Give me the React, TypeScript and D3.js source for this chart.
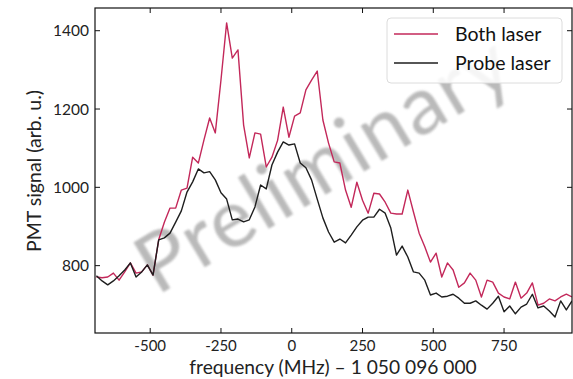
import * as d3 from "d3";

const freqStart = -690;
const freqStep = 20;

const bothLaser = [
  771, 769, 771, 781, 763, 784, 807, 781, 784, 802,
  776, 866, 911, 947, 947, 993, 998, 1077, 1062, 1121,
  1177, 1139, 1274, 1420, 1330, 1351, 1159, 1075, 1139, 1136,
  1052, 1077, 1120, 1205, 1128, 1182, 1190, 1249, 1274, 1297,
  1172, 1113, 1065, 1062, 993, 949, 1013, 967, 934, 985,
  983, 962, 934, 932, 932, 993, 937, 883, 848, 809,
  832, 771, 807, 789, 745, 756, 781, 763, 720, 763,
  758, 730, 720, 715, 758, 717, 730, 756, 699, 704,
  715, 710, 720, 727, 720,
];

const probeLaser = [
  774, 761, 751, 761, 774, 789, 807, 771, 784, 802,
  776, 866, 871, 883, 911, 940, 988, 1014, 1047, 1037,
  1040, 1019, 986, 970, 917, 919, 912, 917, 950, 1006,
  996, 1057, 1090, 1116, 1108, 1111, 1062, 1050, 1019, 970,
  922, 886, 860, 868, 858, 878, 899, 916, 924, 924,
  944, 934, 896, 827, 850, 822, 784, 781, 763, 725,
  730, 720, 722, 727, 717, 704, 704, 710, 699, 689,
  704, 722, 682, 697, 677, 694, 702, 727, 692, 697,
  684, 669, 710, 687, 710,
];

const xTicks = [-500, -250, 0, 250, 500, 750];
const yTicks = [800, 1000, 1200, 1400];

const seriesNames = ["Both laser", "Probe laser"];
const seriesColors = ["#c3285a", "#1e1e1e"];

const width = 573;
const height = 379;
const margin = { top: 8, right: 1, bottom: 46, left: 95 };
const font = "Lato, 'Open Sans', sans-serif";

export default function App() {
  const innerWidth = width - margin.left - margin.right;
  const innerHeight = height - margin.top - margin.bottom;

  const x = d3.scaleLinear().domain([-695, 990]).range([0, innerWidth]);
  const y = d3.scaleLinear().domain([628, 1458]).range([innerHeight, 0]);

  const line = d3
    .line<number>()
    .x((_, i) => x(freqStart + i * freqStep))
    .y((d) => y(d));

  const series = [bothLaser, probeLaser];
  const tickLen = 5;

  return (
    <svg
      width={width}
      height={height}
      style={{ position: "absolute", left: 0, top: 0, background: "#fff" }}
      fontFamily={font}
    >
      <defs>
        <clipPath id="plot-clip">
          <rect x={0} y={0} width={innerWidth} height={innerHeight} />
        </clipPath>
        <filter id="soft">
          <feGaussianBlur stdDeviation={1.3} />
        </filter>
      </defs>
      <g transform={`translate(${margin.left}, ${margin.top})`}>
        <g clipPath="url(#plot-clip)">
          <text
            transform={`translate(${157 - margin.left}, ${296 - margin.top}) rotate(-31)`}
            fontSize={82}
            fill="#a9a9a9"
            opacity={0.8}
            filter="url(#soft)"
            letterSpacing={1.5}
          >
            Preliminary
          </text>
          {series.map((s, i) => (
            <path key={seriesNames[i]} d={line(s) ?? ""} fill="none" stroke={seriesColors[i]} strokeWidth={1.4} strokeLinejoin="round" />
          ))}
        </g>

        <rect x={0} y={0} width={innerWidth} height={innerHeight} fill="none" stroke="#111" strokeWidth={1.2} />

        {xTicks.map((t) => (
          <g key={t} transform={`translate(${x(t)}, 0)`}>
            <line y1={innerHeight} y2={innerHeight - tickLen} stroke="#111" />
            <line y1={0} y2={tickLen} stroke="#111" />
            <text y={innerHeight + 18} textAnchor="middle" fontSize={15} fill="#222">
              {t}
            </text>
          </g>
        ))}

        {yTicks.map((t) => (
          <g key={t} transform={`translate(0, ${y(t)})`}>
            <line x1={0} x2={tickLen} stroke="#111" />
            <line x1={innerWidth} x2={innerWidth - tickLen} stroke="#111" />
            <text x={-6} dy="0.36em" textAnchor="end" fontSize={15.5} fill="#222">
              {t}
            </text>
          </g>
        ))}

        <text x={333 - margin.left} y={374 - margin.top} textAnchor="middle" fontSize={19.2} fill="#222">
          frequency (MHz) – 1 050 096 000
        </text>
        <text
          transform={`translate(${41 - margin.left}, ${171 - margin.top}) rotate(-90)`}
          textAnchor="middle"
          fontSize={19.5}
          fill="#222"
        >
          PMT signal (arb. u.)
        </text>

        <g transform={`translate(${387 - margin.left}, ${18 - margin.top})`}>
          <rect width={175} height={65} rx={4} fill="#fff" fillOpacity={0.85} stroke="#dcdcdc" />
          {seriesNames.map((name, i) => (
            <g key={name} transform={`translate(0, ${16 + i * 29})`}>
              <line x1={7} x2={51} stroke={seriesColors[i]} strokeWidth={1.4} />
              <text x={68} dy="0.36em" fontSize={19.5} fill="#111">
                {name}
              </text>
            </g>
          ))}
        </g>
      </g>
    </svg>
  );
}
